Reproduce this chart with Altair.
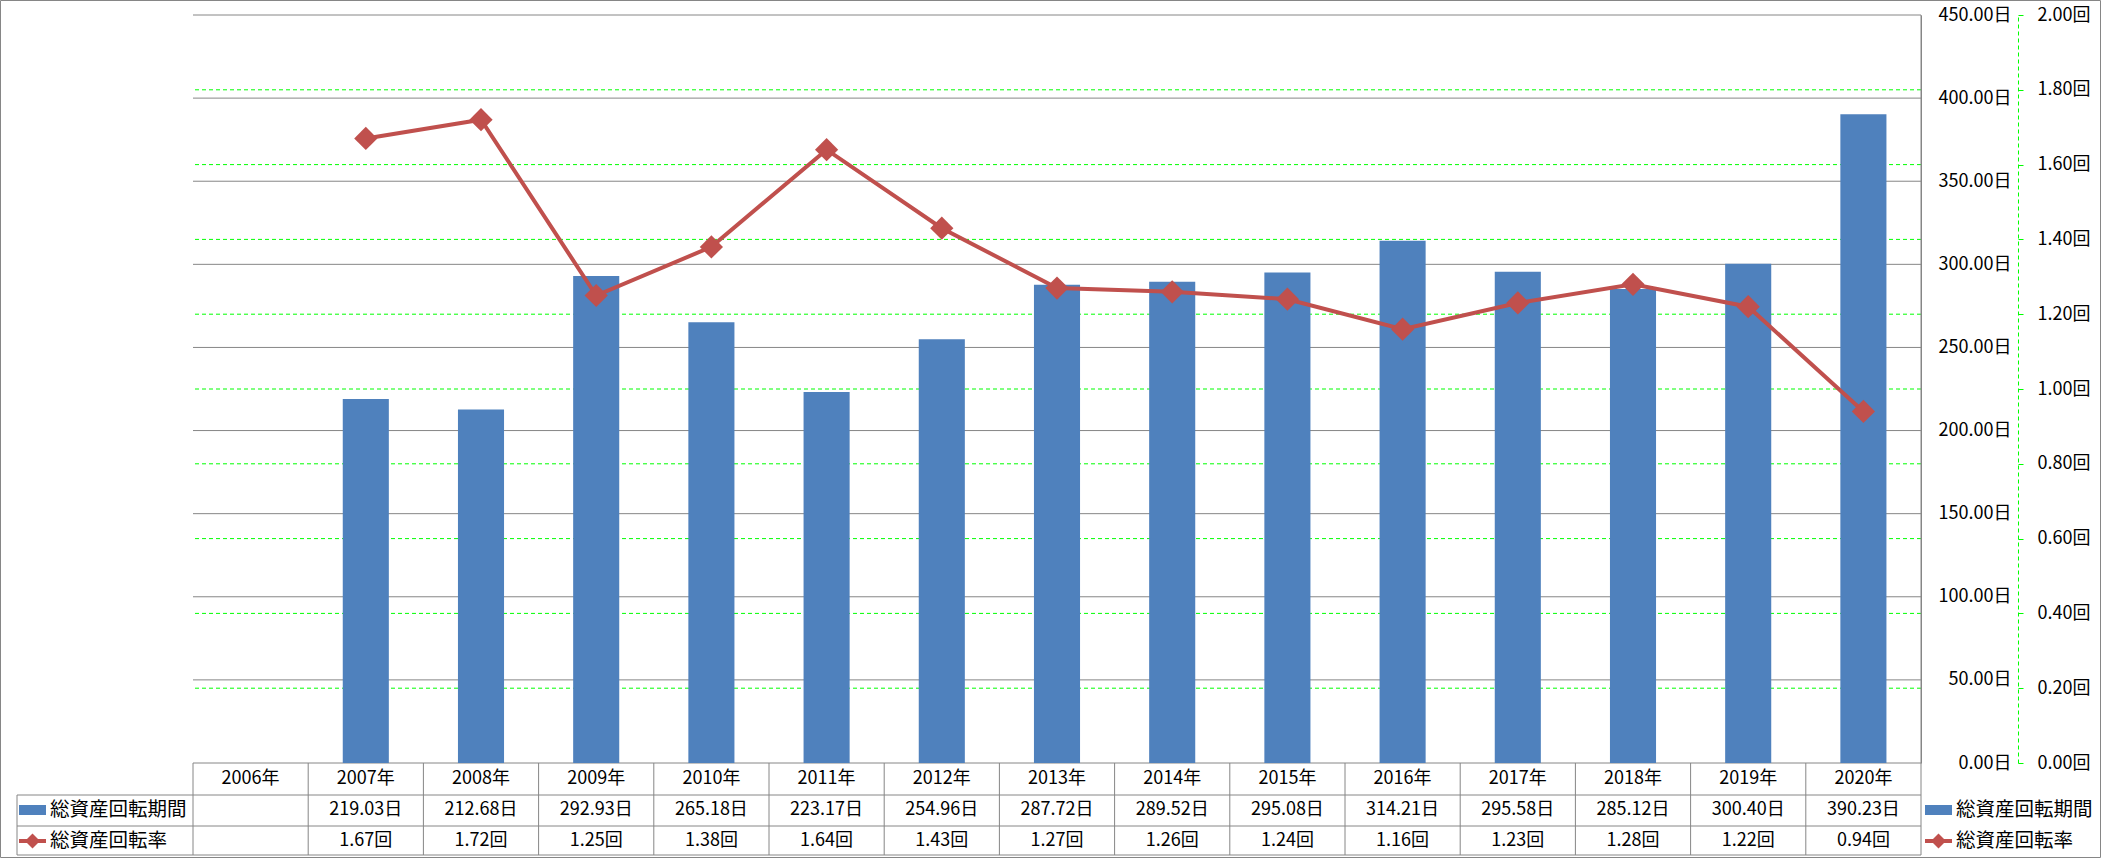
import altair as alt
import pandas as pd

years = ["2006", "2007", "2008", "2009", "2010", "2011", "2012", "2013",
         "2014", "2015", "2016", "2017", "2018", "2019", "2020"]
days = [None, 219.03, 212.68, 292.93, 265.18, 223.17, 254.96, 287.72,
        289.52, 295.08, 314.21, 295.58, 285.12, 300.40, 390.23]
rates = [None, 1.67, 1.72, 1.25, 1.38, 1.64, 1.43, 1.27,
         1.26, 1.24, 1.16, 1.23, 1.28, 1.22, 0.94]
days_ticks = [0, 50, 100, 150, 200, 250, 300, 350, 400, 450]
rate_ticks = [0, 0.2, 0.4, 0.6, 0.8, 1.0, 1.2, 1.4, 1.6, 1.8, 2.0]
green_grid = [0.2, 0.4, 0.6, 0.8, 1.0, 1.2, 1.4, 1.6, 1.8]
series_days = "総資産回転期間"
series_rate = "総資産回転率"

BLUE = "#4F81BD"
RED = "#C0504D"
GRAY = "#868686"
GREEN = "#00FF00"
FONT = "Noto Sans CJK JP"
FS = 18
LFS = 19.5

W, H = 1728, 748

df = pd.DataFrame({"year": years, "days": days, "rate": rates})
df["year_label"] = df["year"] + "年"
df["days_label"] = [("" if v is None or pd.isna(v) else f"{v:.2f}日") for v in df["days"]]
df["rate_label"] = [("" if v is None or pd.isna(v) else f"{v:.2f}回") for v in df["rate"]]
data_df = df.dropna(subset=["days", "rate"])

xscale = alt.Scale(domain=years, paddingInner=0, paddingOuter=0)
X = alt.X("year:N", scale=xscale, axis=None)
dscale = alt.Scale(domain=[0, 450], nice=False, zero=True)
rscale = alt.Scale(domain=[0, 2], nice=False, zero=True)
one = alt.Data(values=[{"a": 1}])

gray_grid = alt.Chart(pd.DataFrame({"v": days_ticks})).mark_rule(
    color=GRAY, strokeWidth=1).encode(y=alt.Y("v:Q", scale=dscale, axis=None))

green = alt.Chart(pd.DataFrame({"v": green_grid})).mark_rule(
    color=GREEN, strokeWidth=1, strokeDash=[4, 3]).encode(
    y=alt.Y("v:Q", scale=rscale, axis=None))

bars = alt.Chart(data_df).mark_bar(width=alt.RelativeBandSize(0.4), color=BLUE).encode(
    x=X,
    y=alt.Y("days:Q", scale=dscale, axis=alt.Axis(
        orient="right", values=days_ticks, title=None, grid=False, ticks=False, tickSize=0,
        domain=True, domainColor=GRAY, labelAlign="right", labelPadding=90,
        labelExpr="format(datum.value, '.2f') + '日'", labelFontSize=FS,
        labelColor="black", labelFont=FONT, labelOverlap=False, labelBaseline="middle")),
)

line = alt.Chart(data_df).mark_line(color=RED, strokeWidth=4).encode(
    x=X,
    y=alt.Y("rate:Q", scale=rscale, axis=alt.Axis(
        orient="right", offset=97, values=rate_ticks, title=None, grid=False,
        ticks=True, tickSize=5, tickColor=GREEN, domain=True, domainColor=GREEN,
        domainDash=[4, 3], labelAlign="left", labelPadding=14,
        labelExpr="format(datum.value, '.2f') + '回'", labelFontSize=FS,
        labelColor="black", labelFont=FONT, labelOverlap=False, labelBaseline="middle")),
)

points = alt.Chart(data_df).mark_point(shape="diamond", filled=True, size=540,
                                         opacity=1, color=RED).encode(
    x=X, y=alt.Y("rate:Q", scale=rscale, axis=None))

txt = dict(fontSize=FS, font=FONT, color="black", baseline="middle", align="center")
hdr = alt.Chart(df).mark_text(**txt).encode(x=X, y=alt.value(764), text="year_label:N")
row1 = alt.Chart(df).mark_text(**txt).encode(x=X, y=alt.value(795), text="days_label:N")
row2 = alt.Chart(df).mark_text(**txt).encode(x=X, y=alt.value(826), text="rate_label:N")

vlines = alt.Chart(df).mark_rule(color=GRAY, strokeWidth=1).encode(
    x=alt.X("year:N", scale=xscale, axis=None, bandPosition=0),
    y=alt.value(H), y2=alt.value(840))

def rule(x, x2, y, y2, color=GRAY):
    return alt.Chart(one).mark_rule(color=color, strokeWidth=1).encode(
        x=alt.value(x), x2=alt.value(x2), y=alt.value(y), y2=alt.value(y2))

table_rules = [
    rule(-176, W, 780, 780),
    rule(-176, W, 811, 811),
    rule(-176, W, 840, 840),
    rule(-176, -176, 780, 840),
    rule(W, W, 0, 840),
]

border = alt.Chart(one).mark_rect(fillOpacity=0, stroke=GRAY, strokeWidth=1).encode(
    x=alt.value(-192.5), x2=alt.value(1907.5), y=alt.value(-14.5), y2=alt.value(842.5))

ltxt = dict(fontSize=LFS, font=FONT, color="black", baseline="middle", align="left")

def legend_items(x0):
    items = []
    items.append(alt.Chart(one).mark_rect(color=BLUE).encode(
        x=alt.value(x0), x2=alt.value(x0 + 27), y=alt.value(790), y2=alt.value(800)))
    items.append(alt.Chart(one).mark_text(**ltxt).encode(
        x=alt.value(x0 + 31), y=alt.value(795), text=alt.value(series_days)))
    items.append(alt.Chart(one).mark_rule(color=RED, strokeWidth=4).encode(
        x=alt.value(x0), x2=alt.value(x0 + 27), y=alt.value(826), y2=alt.value(826)))
    items.append(alt.Chart(one).mark_point(shape="diamond", filled=True, size=225,
                                           opacity=1, color=RED).encode(
        x=alt.value(x0 + 13.5), y=alt.value(826)))
    items.append(alt.Chart(one).mark_text(**ltxt).encode(
        x=alt.value(x0 + 31), y=alt.value(826), text=alt.value(series_rate)))
    return items

layers = [gray_grid, green, bars, line, points, hdr, row1, row2, vlines] + table_rules \
    + [border] + legend_items(-174) + legend_items(1732)

chart = alt.layer(*layers).resolve_scale(y="independent").properties(
    width=W, height=H,
    autosize=alt.AutoSizeParams(type="none"),
    padding={"left": 193, "top": 15, "right": 180, "bottom": 95},
    background="white",
).configure_view(stroke=None)

chart.save("out.html", embed_options={"renderer": "svg", "actions": False})
